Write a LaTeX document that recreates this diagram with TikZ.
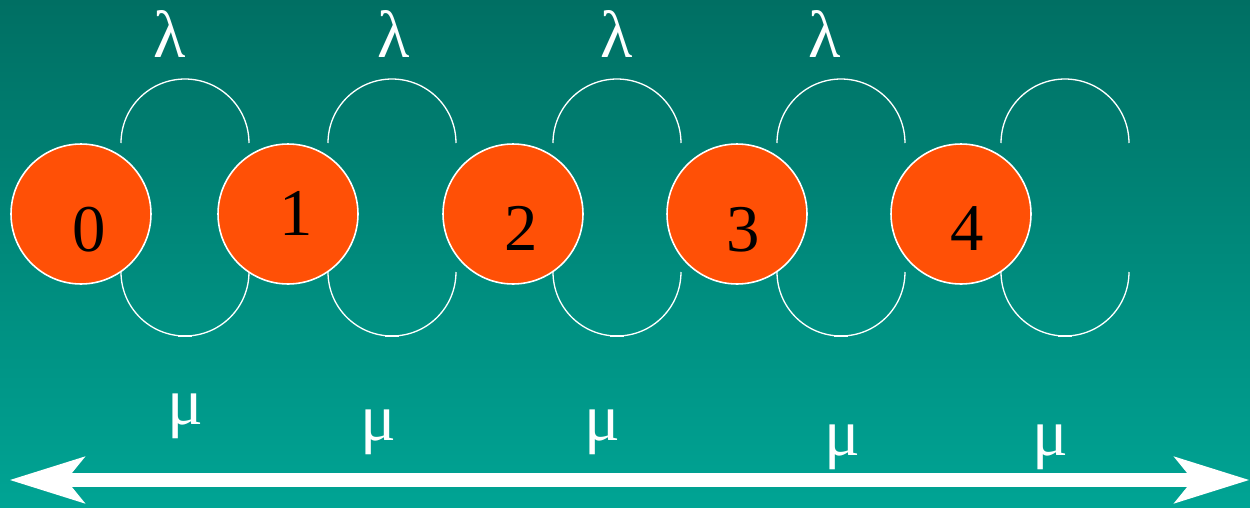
\documentclass[tikz,border=0pt]{standalone}
\usepackage{fontspec}
\setmainfont{Liberation Serif}
\usetikzlibrary{arrows.meta}
\definecolor{seatop}{RGB}{0,111,99}
\definecolor{seabot}{RGB}{0,164,148}
\definecolor{ball}{RGB}{255,80,6}
\tikzset{
  state/.style={circle, fill=ball, draw=white, line width=0.9pt, minimum size=2.8cm, inner sep=0pt},
  digit/.style={anchor=base, text=black, font=\fontsize{38}{38}\selectfont},
  rate/.style={anchor=base, text=white, font=\fontsize{38}{38}\selectfont},
  hop/.style={draw=white, line width=0.75pt},
  hoptick/.style={draw=white, line width=1.3pt},
  flowtip/.style={Stealth[length=43pt, width=27pt, inset=11pt, line width=0pt]},
  flow/.style={draw=white, line width=8.5pt, {Stealth[length=43pt, width=27pt, inset=11pt, line width=0pt]}-{Stealth[length=43pt, width=27pt, inset=11pt, line width=0pt]}}
}
\begin{document}
\begin{tikzpicture}[x=0.02cm, y=-0.02cm]
        %background
        \shade[top color=seatop, bottom color=seabot] (0,0) rectangle (1250,507);
        \useasboundingbox (0,0) rectangle (1250,507);
        %states and their loops
        \foreach \i/\x/\dx/\dy in {0/81/8/37, 1/288/8/21, 2/513/8/36, 3/737/6/37, 4/961/6/36}{
            \node[state] (s\i) at (\x,214) {};
            \node[digit] (d\i) at ([shift={(\dx,\dy)}]s\i.center) {\i};
            \draw[hop] ([shift={(40,-71)}]s\i.center) arc[start angle=180, end angle=0, radius=1.28cm];
            \draw[hop] ([shift={(40,58)}]s\i.center) arc[start angle=180, end angle=360, radius=1.28cm];
            \draw[hoptick] ([shift={(97,122)}]s\i.center) -- ++(14,0);
        }
        %rates
        \foreach \x [count=\k] in {170,394,617,825}
            \node[rate] (lam\k) at (\x,57) {λ};
        \foreach \x/\y [count=\k] in {185/424, 378/440, 602/440, 842/455, 1050/455}
            \node[rate] (mu\k) at (\x,\y) {μ};
        % \node at (625,480) {\dots};
        \coordinate (west) at (10,480);
        \coordinate (east) at (1249,480);
        \draw[flow] (west) -- (east);
    \end{tikzpicture}
\end{document}
